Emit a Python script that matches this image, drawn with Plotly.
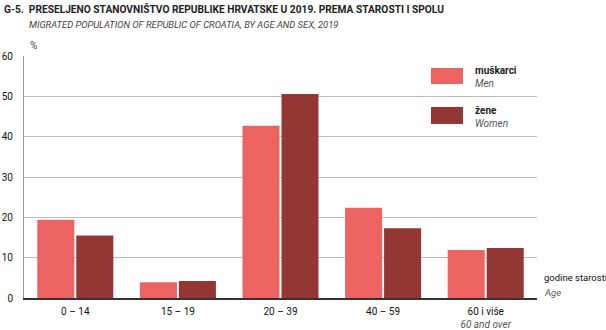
import plotly.graph_objects as go

categories = ["0 – 14", "15 – 19", "20 – 39", "40 – 59", "60 i više"]
cat_labels = ["0 – 14", "15 – 19", "20 – 39", "40 – 59", "60 i više<br><i style='color:#555'>60 and over</i>"]
men = [19.4, 3.9, 42.7, 22.4, 11.9]
women = [15.5, 4.2, 50.6, 17.3, 12.4]
y_ticks = [0, 10, 20, 30, 40, 50, 60]

FONT = "Roboto, Liberation Sans, Arial, sans-serif"
C_MEN = "#EC6461"
C_WOMEN = "#943634"

fig = go.Figure()
fig.add_trace(go.Bar(x=categories, y=men, name="muškarci", marker=dict(color=C_MEN, line=dict(width=0))))
fig.add_trace(go.Bar(x=categories, y=women, name="žene", marker=dict(color=C_WOMEN, line=dict(width=0))))

fig.update_layout(
    width=606, height=330,
    margin=dict(l=24, r=69, t=56, b=32),
    paper_bgcolor="white", plot_bgcolor="white",
    barmode="group", bargap=0.24, bargroupgap=0.05,
    showlegend=False,
    font=dict(family=FONT, size=10, color="#111"),
    xaxis=dict(
        tickmode="array", tickvals=categories, ticktext=cat_labels,
        showgrid=False, showline=True, linecolor="#333", linewidth=1.5,
        ticks="", ticklabelstandoff=3, tickfont=dict(size=10, color="#111"),
        fixedrange=True, automargin=False,
    ),
    yaxis=dict(
        range=[0, 60], tickvals=y_ticks, showgrid=True, gridcolor="#BDBDBD", gridwidth=1,
        zeroline=False, showline=True, linecolor="#999", linewidth=1,
        ticks="", ticklabelstandoff=8, tickfont=dict(size=10, color="#111"),
        fixedrange=True, automargin=False,
    ),
)

def px_x(px):
    return (px - 24) / 513

def px_y(py):
    return (298 - py) / 242

# legend area (white block interrupting the 50 gridline)
fig.add_shape(type="rect", xref="paper", yref="paper", x0=px_x(425), x1=px_x(518),
              y0=px_y(110), y1=px_y(80), fillcolor="white", line=dict(width=0), layer="below")

fig.add_shape(type="rect", xref="paper", yref="paper", x0=px_x(431), x1=px_x(463),
              y0=px_y(84), y1=px_y(68), fillcolor=C_MEN, line=dict(width=0))
fig.add_shape(type="rect", xref="paper", yref="paper", x0=px_x(431), x1=px_x(463),
              y0=px_y(124), y1=px_y(107), fillcolor=C_WOMEN, line=dict(width=0))

ann = [
    dict(text="<b>G-5.  PRESELJENO STANOVNIŠTVO REPUBLIKE HRVATSKE U 2019. PREMA STAROSTI I SPOLU</b>",
         x=2, y=9, size=10.2, color="#222"),
    dict(text="<i>MIGRATED POPULATION OF REPUBLIC OF CROATIA, BY AGE AND SEX, 2019</i>",
         x=27, y=24, size=9.4, color="#444"),
    dict(text="%", x=28, y=46, size=10, color="#444"),
    dict(text="<b>muškarci</b>", x=473, y=70, size=10, color="#222"),
    dict(text="<i>Men</i>", x=473, y=84, size=10, color="#555"),
    dict(text="<b>žene</b>", x=473, y=110, size=10, color="#222"),
    dict(text="<i>Women</i>", x=473, y=124, size=10, color="#555"),
    dict(text="godine starosti", x=542, y=277, size=9.5, color="#111"),
    dict(text="<i>Age</i>", x=542, y=292, size=9.5, color="#555"),
]
for a in ann:
    fig.add_annotation(text=a["text"], xref="paper", yref="paper",
                       x=px_x(a["x"]), y=px_y(a["y"]), xanchor="left", yanchor="middle",
                       showarrow=False, font=dict(family=FONT, size=a["size"], color=a["color"]))

fig.write_html("out.html")
